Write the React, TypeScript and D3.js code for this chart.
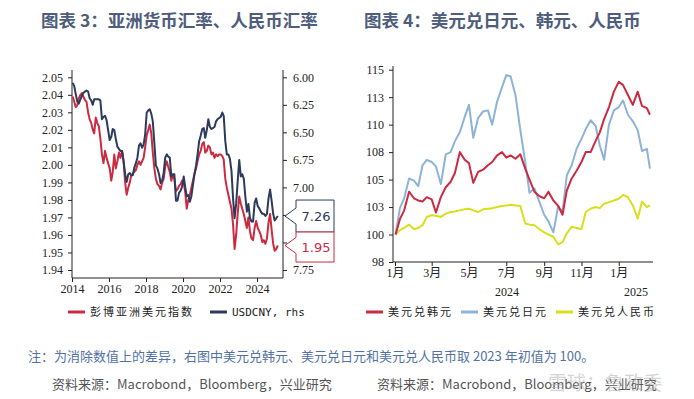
import React, { useEffect, useRef } from 'react';
import * as d3 from 'd3';

const W = 694;
const H = 399;

// ---- left chart: monthly, Jan 2014 .. Feb 2025 ----
const asiaDollarIndex = [
  2.039, 2.036, 2.033, 2.034, 2.038, 2.040, 2.041, 2.039, 2.037, 2.036, 2.030, 2.026,
  2.024, 2.020, 2.018, 2.027, 2.024, 2.022, 2.015, 2.006, 2.001, 2.008, 2.004, 2.001,
  1.998, 1.991, 1.996, 2.006, 1.998, 2.002, 2.007, 2.004, 2.008, 2.002, 1.990, 1.983,
  1.987, 1.990, 1.994, 1.995, 1.996, 1.997, 2.000, 2.002, 2.000, 2.002, 2.004, 2.010,
  2.017, 2.020, 2.023, 2.018, 2.007, 1.998, 1.992, 1.989, 1.988, 1.986, 1.990, 1.992,
  1.999, 2.002, 1.999, 1.996, 1.991, 1.994, 1.992, 1.985, 1.986, 1.988, 1.989, 1.991,
  1.990, 1.984, 1.975, 1.980, 1.983, 1.987, 1.991, 1.995, 1.998, 2.002, 2.006, 2.008,
  2.012, 2.013, 2.007, 2.008, 2.011, 2.010, 2.006, 2.007, 2.004, 2.006, 2.005, 2.006,
  2.006, 2.005, 2.003, 1.992, 1.987, 1.983, 1.979, 1.975, 1.966, 1.952, 1.960, 1.972,
  1.982, 1.978, 1.975, 1.972, 1.968, 1.964, 1.970, 1.962, 1.958, 1.957, 1.964, 1.968,
  1.964, 1.962, 1.960, 1.956, 1.957, 1.955, 1.958, 1.967, 1.972, 1.963, 1.955, 1.951,
  1.952, 1.954
];
const usdCny = [
  6.05, 6.08, 6.15, 6.22, 6.24, 6.20, 6.17, 6.14, 6.13, 6.12, 6.13, 6.19,
  6.21, 6.25, 6.20, 6.20, 6.20, 6.20, 6.21, 6.38, 6.36, 6.35, 6.39, 6.48,
  6.57, 6.54, 6.47, 6.48, 6.56, 6.63, 6.65, 6.67, 6.67, 6.76, 6.88, 6.95,
  6.88, 6.87, 6.89, 6.89, 6.82, 6.78, 6.73, 6.62, 6.60, 6.64, 6.61, 6.52,
  6.32, 6.30, 6.29, 6.33, 6.40, 6.60, 6.80, 6.83, 6.88, 6.96, 6.94, 6.87,
  6.73, 6.70, 6.72, 6.73, 6.90, 6.88, 6.88, 7.12, 7.12, 7.05, 7.03, 6.99,
  6.90, 7.00, 7.08, 7.07, 7.13, 7.08, 6.98, 6.88, 6.80, 6.70, 6.58, 6.53,
  6.47, 6.46, 6.55, 6.48, 6.38, 6.45, 6.47, 6.46, 6.45, 6.40, 6.38, 6.37,
  6.36, 6.32, 6.35, 6.58, 6.70, 6.70, 6.74, 6.85, 7.10, 7.28, 7.15, 6.95,
  6.75, 6.90, 6.88, 6.92, 7.08, 7.22, 7.15, 7.28, 7.31, 7.31, 7.14, 7.10,
  7.17, 7.19, 7.22, 7.24, 7.24, 7.26, 7.24, 7.10, 7.02, 7.12, 7.24, 7.30,
  7.28, 7.26
];
const leftYTicks = [1.94, 1.95, 1.96, 1.97, 1.98, 1.99, 2.0, 2.01, 2.02, 2.03, 2.04, 2.05];
const rightYTicks = [6.0, 6.25, 6.5, 6.75, 7.0, 7.25, 7.5, 7.75];
const rightYHidden = [7.25, 7.5]; // covered by the last-value tags
const leftYears = [2014, 2016, 2018, 2020, 2022, 2024];

// ---- right chart: weekly-ish, 2024-01 .. 2025-02 (start = 100) ----
const fxDates = [
  '2024-01-02', '2024-01-09', '2024-01-16', '2024-01-24', '2024-02-01', '2024-02-08', '2024-02-15', '2024-02-22',
  '2024-03-01', '2024-03-08', '2024-03-16', '2024-03-24', '2024-04-01', '2024-04-08', '2024-04-16', '2024-04-24',
  '2024-05-01', '2024-05-08', '2024-05-16', '2024-05-24', '2024-06-01', '2024-06-08', '2024-06-16', '2024-06-24',
  '2024-07-01', '2024-07-08', '2024-07-16', '2024-07-24', '2024-08-01', '2024-08-08', '2024-08-16', '2024-08-24',
  '2024-09-01', '2024-09-08', '2024-09-16', '2024-09-24', '2024-10-01', '2024-10-08', '2024-10-16', '2024-10-24',
  '2024-11-01', '2024-11-08', '2024-11-16', '2024-11-24', '2024-12-01', '2024-12-08', '2024-12-16', '2024-12-24',
  '2025-01-01', '2025-01-08', '2025-01-16', '2025-01-24', '2025-02-01', '2025-02-08', '2025-02-16', '2025-02-21'
];
const usdKrw = [
  100.0, 101.4, 102.2, 103.9, 103.3, 103.1, 103.0, 103.4,
  103.2, 102.0, 103.4, 104.3, 104.8, 105.6, 107.5, 106.8,
  106.5, 104.7, 105.7, 105.9, 106.3, 106.6, 107.2, 107.5,
  107.0, 107.2, 106.9, 107.3, 106.0, 105.0, 103.9, 103.5,
  103.3, 103.9, 103.1, 102.6, 101.8, 104.0, 105.1, 105.8,
  106.6, 107.5, 107.5, 108.5, 109.3, 110.5, 111.6, 113.0,
  113.9, 113.6, 112.7, 111.8, 113.0, 111.7, 111.5, 110.9
];
const usdJpy = [
  100.0, 102.4, 103.3, 105.1, 104.9, 104.4, 106.3, 106.8,
  106.6, 106.2, 104.6, 107.3, 107.5, 108.5, 109.3, 110.7,
  111.8, 108.8, 110.6, 111.2, 111.3, 110.0, 112.1, 113.4,
  114.5, 114.4, 112.7, 109.5, 106.6, 103.8, 104.2, 103.0,
  101.8, 101.2, 100.2, 102.6, 102.0, 105.4, 106.3, 107.8,
  108.7, 109.6, 110.4, 109.9, 108.1, 106.8, 110.0, 111.3,
  111.6, 112.2, 110.9, 110.3, 109.5, 107.6, 107.8, 106.0
];
const usdCnyIdx = [
  100.0, 100.4, 100.6, 100.9, 100.5, 100.6, 100.85, 101.6,
  101.75, 101.7, 101.6, 101.9, 102.05, 102.1, 102.2, 102.3,
  102.35, 102.2, 102.05, 102.3, 102.35, 102.4, 102.5, 102.6,
  102.65, 102.7, 102.65, 102.6, 101.0, 100.9, 100.85, 100.5,
  100.2, 100.0, 99.8, 99.1, 99.3, 100.1, 100.7, 100.6,
  100.5, 102.05, 102.35, 102.5, 102.4, 102.8, 102.95, 103.1,
  103.25, 103.6, 103.4, 102.65, 101.45, 103.0, 102.5, 102.65
];
const fxYTicks = [97.5, 100, 102.5, 105, 107.5, 110, 112.5, 115];
const fxMonthTicks = ['2024-01-01', '2024-03-01', '2024-05-01', '2024-07-01', '2024-09-01', '2024-11-01', '2025-01-01'];

const RED = '#cc2a40';
const NAVY = '#2d3a5c';
const LIGHT_BLUE = '#8db3d8';
const YELLOW = '#d6e01e';
const TICK_FONT = "'Liberation Serif', 'Noto Sans CJK SC', serif";
const CJK = "'Noto Sans CJK SC', sans-serif";
const LEGEND_FONT = "'DejaVu Sans Mono', 'Noto Sans CJK SC', monospace";

const App: React.FC = () => {
  const svgRef = useRef<SVGSVGElement>(null);

  useEffect(() => {
    if (!svgRef.current) return;
    const svg = d3.select(svgRef.current);
    svg.selectAll('*').remove();

    svg.append('rect').attr('width', W).attr('height', H).attr('fill', 'white');

    // titles
    svg.append('text').attr('x', 41).attr('y', 27)
      .attr('font-family', CJK).attr('font-size', 17.5).attr('font-weight', 700)
      .attr('fill', '#4e5d7b').text('图表 3：亚洲货币汇率、人民币汇率');
    svg.append('text').attr('x', 364).attr('y', 27)
      .attr('font-family', CJK).attr('font-size', 17.5).attr('font-weight', 700)
      .attr('fill', '#4e5d7b').text('图表 4：美元兑日元、韩元、人民币');

    const styleAxis = (g: d3.Selection<SVGGElement, unknown, null, undefined>) => {
      g.select('.domain').remove();
      g.attr('font-family', TICK_FONT).attr('font-size', 12);
      g.selectAll('line').attr('stroke', '#222');
      g.selectAll('text').attr('fill', '#222');
    };

    // ================= left chart =================
    const lx0 = 72, lx1 = 283, lyTop = 70, lyBot = 278;
    const leftDates = asiaDollarIndex.map((_, i) => new Date(2014, i, 15));
    const xL = d3.scaleTime()
      .domain([new Date(2014, 0, 1), new Date(2025, 4, 28)])
      .range([lx0, lx1]);
    const yL = d3.scaleLinear().domain([1.94, 2.05]).range([270, 77.3]);
    const yR = d3.scaleLinear().domain([6.0, 7.75]).range([77.3, 270]);

    const gl = svg.append('g');
    gl.append('g').attr('transform', `translate(${lx0},0)`)
      .call(d3.axisLeft(yL).tickValues(leftYTicks).tickSize(4).tickPadding(5).tickFormat(d3.format('.2f')))
      .call(styleAxis);
    gl.append('g').attr('transform', `translate(${lx1},0)`)
      .call(d3.axisRight(yR).tickValues(rightYTicks).tickSize(4).tickPadding(6)
        .tickFormat(d => (rightYHidden.includes(d as number) ? '' : d3.format('.2f')(d as number))))
      .call(styleAxis);
    gl.append('g').attr('transform', `translate(0,${lyBot})`)
      .call(d3.axisBottom(xL).tickValues(leftYears.map(y => new Date(y, 0, 1))).tickSize(4).tickPadding(2)
        .tickFormat(d => d3.timeFormat('%Y')(d as Date)))
      .call(styleAxis);

    gl.append('path').attr('d', `M${lx0},${lyTop}V${lyBot}H${lx1}V${lyTop}`)
      .attr('fill', 'none').attr('stroke', '#222').attr('stroke-width', 1);

    const lineAsia = d3.line<number>()
      .x((_, i) => xL(leftDates[i]))
      .y(d => yL(d));
    const lineCny = d3.line<number>()
      .x((_, i) => xL(leftDates[i]))
      .y(d => yR(d));

    gl.append('path').datum(asiaDollarIndex).attr('d', lineAsia)
      .attr('fill', 'none').attr('stroke', RED).attr('stroke-width', 2).attr('stroke-linejoin', 'round');
    gl.append('path').datum(usdCny).attr('d', lineCny)
      .attr('fill', 'none').attr('stroke', NAVY).attr('stroke-width', 2).attr('stroke-linejoin', 'round');

    // last-value tags
    const tag = (yv: number, top: number, bottom: number, color: string, label: string) => {
      const bx = 296, bw = 38, tipX = 285;
      gl.append('path')
        .attr('d', `M${tipX},${yv}L${bx},${yv - 8}V${top}H${bx + bw}V${bottom}H${bx}V${yv + 8}Z`)
        .attr('fill', 'white').attr('stroke', color).attr('stroke-width', 1);
      gl.append('text').attr('x', bx + bw / 2 + 1).attr('y', (top + bottom) / 2)
        .attr('text-anchor', 'middle').attr('dominant-baseline', 'central')
        .attr('font-family', "'DejaVu Sans', sans-serif").attr('font-size', 13)
        .attr('fill', color).text(label);
    };
    const lastCny = usdCny[usdCny.length - 1];
    const lastAsia = asiaDollarIndex[asiaDollarIndex.length - 1];
    const yc = yR(lastCny);
    const ya = yL(lastAsia);
    const cTop = yc - 16, cBot = yc + 16;
    const aTop = Math.max(cBot, ya - 15), aBot = aTop + 30;
    tag(yc, cTop, cBot, NAVY, d3.format('.2f')(lastCny));
    tag(ya, aTop, aBot, RED, d3.format('.2f')(lastAsia));

    // ================= right chart =================
    const rx0 = 393, rx1 = 653, ryTop = 66, ryBot = 262;
    const parse = d3.timeParse('%Y-%m-%d');
    const dates = fxDates.map(d => parse(d) as Date);
    const xF = d3.scaleTime()
      .domain([new Date(2024, 0, 1), new Date(2025, 1, 26)])
      .range([rx0 + 2, rx1]);
    const yF = d3.scaleLinear().domain([97.5, 115]).range([ryBot, 69.7]);

    const gr = svg.append('g');
    gr.append('g').attr('transform', `translate(${rx0},0)`)
      .call(d3.axisLeft(yF).tickValues(fxYTicks).tickSize(4).tickPadding(5)
        .tickFormat(d => String(Math.round(d as number))))
      .call(styleAxis);
    gr.append('g').attr('transform', `translate(0,${ryBot})`)
      .call(d3.axisBottom(xF).tickValues(fxMonthTicks.map(d => parse(d) as Date)).tickSize(4).tickPadding(2)
        .tickFormat(d => `${(d as Date).getMonth() + 1}月`))
      .call(styleAxis);
    gr.append('path').attr('d', `M${rx0},${ryTop}V${ryBot}H${rx1}`)
      .attr('fill', 'none').attr('stroke', '#222').attr('stroke-width', 1);

    // year labels under the month ticks
    const yearLabel = (x: number, t: string) =>
      gr.append('text').attr('x', x).attr('y', 296).attr('text-anchor', 'middle')
        .attr('font-family', TICK_FONT).attr('font-size', 12).attr('fill', '#222').text(t);
    yearLabel((xF(new Date(2024, 0, 1)) + xF(new Date(2025, 0, 1))) / 2, '2024');
    yearLabel((xF(new Date(2025, 0, 1)) + rx1) / 2, '2025');

    const fxLine = d3.line<number>()
      .x((_, i) => xF(dates[i]))
      .y(d => yF(d));
    const fxSeries: [number[], string][] = [
      [usdCnyIdx, YELLOW],
      [usdJpy, LIGHT_BLUE],
      [usdKrw, RED]
    ];
    fxSeries.forEach(([vals, color]) => {
      gr.append('path').datum(vals).attr('d', fxLine)
        .attr('fill', 'none').attr('stroke', color).attr('stroke-width', 2).attr('stroke-linejoin', 'round');
    });

    // ================= legends =================
    const legend = (x: number, color: string, label: string, cjk: boolean) => {
      svg.append('line').attr('x1', x).attr('x2', x + 17).attr('y1', 312).attr('y2', 312)
        .attr('stroke', color).attr('stroke-width', 3);
      svg.append('text').attr('x', x + 22).attr('y', 312).attr('dominant-baseline', 'central')
        .attr('font-family', LEGEND_FONT).attr('font-size', 11)
        .attr('letter-spacing', cjk ? 2 : 0).attr('fill', '#222').text(label);
    };
    legend(68, RED, '彭博亚洲美元指数', true);
    legend(210, NAVY, 'USDCNY, rhs', false);
    legend(366, RED, '美元兑韩元', true);
    legend(461, LIGHT_BLUE, '美元兑日元', true);
    legend(556, YELLOW, '美元兑人民币', true);

    // ================= notes =================
    svg.append('text').attr('x', 28).attr('y', 355).attr('dominant-baseline', 'central')
      .attr('font-family', CJK).attr('font-size', 13).attr('fill', '#5271a6')
      .text('注：为消除数值上的差异，右图中美元兑韩元、美元兑日元和美元兑人民币取 2023 年初值为 100。');
    svg.append('text').attr('x', 52).attr('y', 383).attr('dominant-baseline', 'central')
      .attr('font-family', CJK).attr('font-size', 13).attr('fill', '#555')
      .text('资料来源：Macrobond，Bloomberg，兴业研究');
    svg.append('text').attr('x', 377).attr('y', 383).attr('dominant-baseline', 'central')
      .attr('font-family', CJK).attr('font-size', 13).attr('fill', '#555')
      .text('资料来源：Macrobond，Bloomberg，兴业研究');

    // watermark
    svg.append('text').attr('x', 548).attr('y', 381).attr('dominant-baseline', 'central')
      .attr('font-family', CJK).attr('font-size', 19).attr('fill', '#aaa').attr('opacity', 0.5)
      .text('雪球：鲁政委');
  }, []);

  return (
    <div style={{ position: 'absolute', left: 0, top: 0 }}>
      <svg ref={svgRef} width={W} height={H} style={{ display: 'block', backgroundColor: 'white' }} />
    </div>
  );
};

export default App;
